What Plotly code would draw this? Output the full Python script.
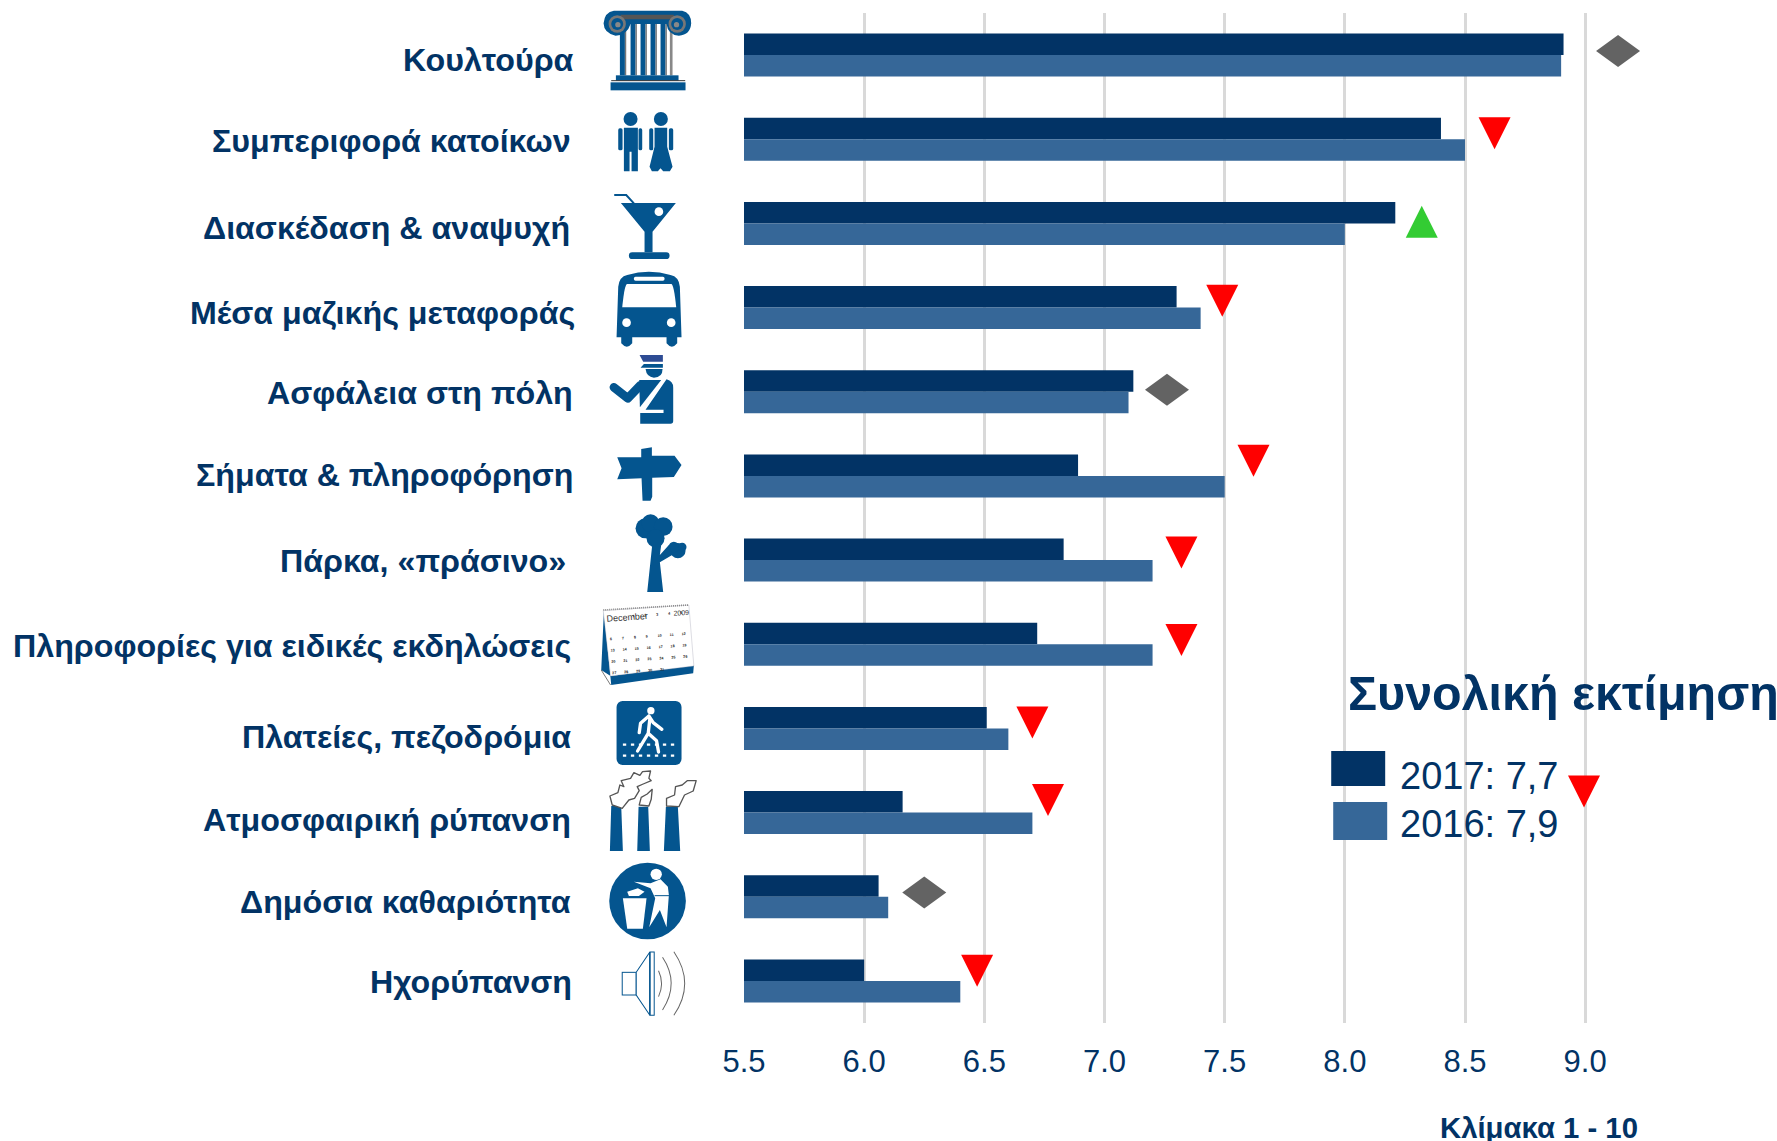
import base64
import plotly.graph_objects as go

W, H = 1777, 1141
PL, PR, PT, PB = 743.5, 1777, 13, 1023

categories = ["Κουλτούρα", "Συμπεριφορά\u00a0κατοίκων", "Διασκέδαση\u00a0&\u00a0αναψυχή",
              "Μέσα μαζικής μεταφοράς", "Ασφάλεια στη\u00a0πόλη", "Σήματα\u00a0&\u00a0πληροφόρηση",
              "Πάρκα, «πράσινο»", "Πληροφορίες για ειδικές εκδηλώσεις", "Πλατείες, πεζοδρόμια",
              "Ατμοσφαιρική\u00a0ρύπανση", "Δημόσια\u00a0καθαριότητα", "Ηχορύπανση"]
values_2017 = [8.91, 8.40, 8.21, 7.30, 7.12, 6.89, 6.83, 6.72, 6.51, 6.16, 6.06, 6.00]
values_2016 = [8.90, 8.50, 8.00, 7.40, 7.10, 7.50, 7.20, 7.20, 6.60, 6.70, 6.10, 6.40]
trend_kind = ["same", "down", "up", "down", "same", "down", "down", "down", "down", "down", "same", "down"]
trend_x = [9.137, 8.623, 8.32, 7.49, 7.26, 7.62, 7.32, 7.32, 6.70, 6.765, 6.25, 6.47]
trend_row = [-0.05, 0.93, 1.98, 2.92, 3.975, 4.82, 5.91, 6.95, 7.93, 8.85, 9.95, 10.88]
overall_x, overall_row = [8.995], [8.75]
x_ticks = [5.5, 6.0, 6.5, 7.0, 7.5, 8.0, 8.5, 9.0]
x_tick_labels = ["5.5", "6.0", "6.5", "7.0", "7.5", "8.0", "8.5", "9.0"]

NAVY, STEEL, INK, GRID = "#023365", "#366798", "#023365", "#D9D9D9"
ICON = "#04558F"
RED, GREEN, GREY = "#FF0000", "#33CC33", "#636363"
rows = list(range(len(categories)))
label_right = [575.5, 572, 571, 576.5, 574.5, 574.5, 567.5, 572, 572, 572, 572, 573]
label_down = [5, 2, 4.5, 5.5, 1.5, -1, 1, 2, 9, 7, 5.5, 1.5]

px = lambda v: (v - PL) / (PR - PL)
py = lambda v: (PB - v) / (PB - PT)

fig = go.Figure()
fig.add_bar(name="2017", y=rows, x=values_2017, orientation="h", marker_color=NAVY, marker_line_width=0)
fig.add_bar(name="2016", y=rows, x=values_2016, orientation="h", marker_color=STEEL, marker_line_width=0)

colors = {"same": GREY, "down": RED, "up": GREEN}
symbols = {"same": "diamond", "down": "triangle-down", "up": "triangle-up"}
fig.add_scatter(name="Τάση", x=trend_x, y=trend_row, mode="markers", cliponaxis=False,
                marker=dict(size=14, line_width=0, color=[colors[k] for k in trend_kind],
                            symbol=[symbols[k] for k in trend_kind]))
fig.add_scatter(name="Συνολική", x=overall_x, y=overall_row, mode="markers",
                marker=dict(size=14, line_width=0, color=RED, symbol="triangle-down"))

glyph = {
    "same": "M -22 0 L 0 16 L 22 0 L 0 -16 Z",
    "down": "M -16 16 L 16 16 L 0 -16 Z",
    "up": "M -16 -16 L 16 -16 L 0 16 Z",
}
shapes = []
for xv, yv, k in list(zip(trend_x, trend_row, trend_kind)) + [(overall_x[0], overall_row[0], "down")]:
    shapes.append(dict(type="path", xref="x", yref="y", xsizemode="pixel", ysizemode="pixel",
                       xanchor=xv, yanchor=yv, path=glyph[k], fillcolor=colors[k], line_width=0))

# legend swatches
for (x0, x1, y0, y1), c in [((1331, 1385, 751, 786), NAVY), ((1333, 1387, 802, 840), STEEL)]:
    shapes.append(dict(type="rect", xref="paper", yref="paper", x0=px(x0), x1=px(x1), y0=py(y1), y1=py(y0),
                       fillcolor=c, line_width=0))

annotations = []
for i, t in enumerate(categories):
    annotations.append(dict(text=f"<b>{t}</b>", xref="paper", yref="y", x=px(label_right[i]), y=i, yshift=-label_down[i],
                            xanchor="right", yanchor="middle", showarrow=False, xshift=0,
                            font=dict(family="Liberation Sans", size=32.2, color=INK)))
def free_text(t, x, y, size, anchor="left"):
    annotations.append(dict(text=t, xref="paper", yref="paper", x=px(x), y=py(y), xanchor=anchor, yanchor="middle",
                            showarrow=False, font=dict(family="Liberation Sans", size=size, color=INK)))
free_text("<b>Συνολική εκτίμηση</b>", 1346, 693, 48.4)
free_text("2017: 7,7", 1398, 776, 38)
free_text("2016: 7,9", 1398, 824, 38)
free_text("<b>Κλίμακα 1 - 10</b>", 1438, 1127, 29.3)

# ---- pictograms (SVG, in coordinates of 3x crops) ----
def svg(vb, body):
    x0, y0, x1, y1 = vb
    return (f'<svg xmlns="http://www.w3.org/2000/svg" width="{(x1-x0)}" height="{(y1-y0)}" '
            f'viewBox="{x0} {y0} {x1-x0} {y1-y0}">{body}</svg>')

B = ICON
flutes = "".join(f'<rect x="{x}" y="70" width="15" height="156" fill="{B}"/><rect x="{x+15}" y="70" width="4" height="156" fill="#777"/>'
                 for x in (118, 150, 180, 210, 240))
column = (f'<rect x="118" y="70" width="160" height="156" fill="#fff"/>{flutes}'
          f'<rect x="268" y="70" width="8" height="156" fill="#888"/>'
          f'<path d="M100 32 H305 Q332 38 332 70 Q330 105 295 107 Q262 105 258 72 H150 Q140 105 105 107 Q70 100 69 70 Q72 36 100 32Z" fill="{B}"/>'
          f'<path d="M120 44 H280 V58 H120Z" fill="#555"/>'
          f'<circle cx="110" cy="72" r="26" fill="#777"/><circle cx="110" cy="72" r="18" fill="{B}"/><circle cx="112" cy="74" r="8" fill="#888"/>'
          f'<circle cx="290" cy="72" r="26" fill="#777"/><circle cx="290" cy="72" r="18" fill="{B}"/><circle cx="288" cy="74" r="8" fill="#888"/>'
          f'<rect x="106" y="226" width="188" height="16" fill="{B}"/><rect x="90" y="247" width="225" height="24" fill="{B}"/>'
          f'<path d="M92 242 H314" stroke="#333" stroke-width="3"/>')
people = (f'<g fill="{B}"><circle cx="150" cy="357" r="21"/><circle cx="241" cy="357" r="21"/>'
          f'<path d="M130 383 H172 V514 H153 V455 H147 V514 H130Z"/>'
          f'<rect x="113" y="385" width="13" height="66" rx="5"/><rect x="174" y="385" width="11" height="66" rx="5"/>'
          f'<path d="M222 383 H260 V440 L276 500 L268 514 H248 L240 505 L232 514 H214 L207 500 L222 440Z"/>'
          f'<rect x="206" y="385" width="12" height="66" rx="5"/><rect x="265" y="385" width="13" height="66" rx="5"/></g>')
glass = (f'<path d="M121 609 H286 L216 695 V757 H192 V695Z" fill="{B}"/><rect x="145" y="757" width="122" height="20" rx="10" fill="{B}"/>'
         f'<circle cx="235" cy="635" r="13" fill="#fff"/><path d="M101 585 H137 L160 610" fill="none" stroke="{B}" stroke-width="6"/>')
bus = (f'<path d="M140 825 Q205 805 270 825 Q295 830 298 860 L303 1012 H290 V1030 Q274 1050 258 1030 V1012 H155 V1030 Q139 1050 122 1030 V1012 H108 L113 860 Q116 830 140 825Z" fill="{B}"/>'
       f'<path d="M140 852 H272 Q280 852 287 922 H125 Q132 852 140 852Z" fill="#fff"/><rect x="160" y="830" width="92" height="12" rx="5" fill="#fff"/>'
       f'<circle cx="138" cy="968" r="13" fill="#fff"/><circle cx="272" cy="968" r="13" fill="#fff"/>')
police = (f'<g fill="{B}"><path d="M147 30 H217 V50 H158Z" fill="#2E4C94"/><path d="M150 68 L160 57 H217 V68Z"/>'
          f'<path d="M165 72 H216 Q216 98 190 98 Q168 96 165 72Z"/>'
          f'<path d="M70 127 L112 160 L148 122" fill="none" stroke="{B}" stroke-width="26" stroke-linecap="round" stroke-linejoin="round"/>'
          f'<path d="M146 105 H212 L148 187Z"/><path d="M228 103 Q248 108 248 128 V228 Q248 236 240 236 H149 V204 H219 V194 H165Z"/></g>')
sign = (f'<g fill="{B}"><path d="M80 337 H152 V312 L184 307 V332 H252 L273 360 L250 396 L185 398 V455 L180 467 H156 L153 400 L80 403 L93 370Z"/></g>')
tree = (f'<g fill="{B}"><circle cx="165" cy="550" r="30"/><circle cx="180" cy="535" r="27"/><circle cx="218" cy="545" r="28"/>'
        f'<circle cx="195" cy="580" r="27"/><circle cx="262" cy="617" r="23"/><circle cx="250" cy="606" r="16"/><circle cx="275" cy="606" r="13"/>'
        f'<path d="M185 600 L212 600 L208 630 L235 600 L245 630 L208 652 L218 741 H170 Z"/></g>')
cells = ""
n = 1
for r in range(6):
    for c in range(7):
        if (r, c) >= (0, 2) and n <= 31:
            cells += f'<text x="{c*36+82}" y="{r*34+118 - 30*(r==0)}" font-size="11" font-weight="bold" fill="#222" font-family="Liberation Sans">{n}</text>'
            n += 1
cal = (f'<path d="M62 240 L70 62 L92 285 L338 250 L340 226 L90 258Z" fill="{B}"/><path d="M68 62 L325 45 L340 228 L90 258Z" fill="#fff" stroke="#99a" stroke-width="1"/>'
       f'<path d="M68 60 L325 45" stroke="#888" stroke-width="5" stroke-dasharray="3 3"/>'
       f'<g transform="rotate(-4 68 62)"><text x="76" y="96" font-size="27" fill="#333" font-family="Liberation Sans">December</text>'
       f'<text x="278" y="92" font-size="21" fill="#333" font-family="Liberation Sans">2009</text>{cells}</g>'
       f'<path d="M62 240 L90 285" stroke="#333" stroke-width="2"/>')
walk = (f'<rect x="108" y="333" width="195" height="192" rx="18" fill="{B}"/><circle cx="211" cy="362" r="11" fill="#fff"/>'
        f'<path d="M205 378 L180 400 L176 428 M205 378 L218 398 L244 418 M208 385 L203 430 L171 483 M203 430 L228 452 L234 486" fill="none" stroke="#fff" stroke-width="10" stroke-linecap="round" stroke-linejoin="round"/>'
        f'<path d="M127 464 H283 M127 497 H283" stroke="#fff" stroke-width="7" stroke-dasharray="10 14"/>')
smoke = ('<path d="M95 645 L88 618 L112 608 L118 585 L130 590 L122 572 L150 565 L160 548 L178 556 L186 545 L210 543 L205 565 L212 572 L188 582 L170 590 L176 602 L162 625 L145 630 L125 655Z'
         'M176 645 L182 622 L200 612 L215 598 L212 628 L205 648Z'
         'M258 648 L258 625 L282 615 L285 590 L305 585 L320 572 L347 572 L338 603 L312 615 L295 650Z" '
         'fill="#fff" stroke="#555" stroke-width="4" stroke-linejoin="round"/>')
chimney = (f'<path d="M92 648 H122 L127 783 H88Z M174 650 H203 L208 783 H170Z M256 650 H292 L299 783 H250Z" fill="{B}"/>{smoke}')
trash = (f'<circle cx="201" cy="933" r="115" fill="{B}"/><circle cx="227" cy="853" r="17" fill="#fff"/>'
         f'<path d="M127 925 H198 L187 1016 H140Z" fill="#fff"/><path d="M140 905 L172 895 L192 905 L175 918 H145Z" fill="#fff"/>'
         f'<path d="M160 875 L210 880 L240 868 L262 890 L265 915 L258 1012 L238 960 L206 1012 L224 925 L210 895Z" fill="#fff"/>'
         f'<path d="M222 917 H268" stroke="{B}" stroke-width="3"/>')
speaker = (f'<g fill="#fff" stroke="{B}" stroke-width="3"><rect x="125" y="1147" width="42" height="68"/>'
           f'<path d="M167 1147 L208 1086 H221 V1276 H208 L167 1215Z"/><path d="M208 1086 V1276" stroke-width="5"/></g>'
           f'<g fill="none" stroke="#666" stroke-width="3"><path d="M234 1142 Q252 1180 234 1220"/><path d="M246 1102 Q298 1180 246 1260"/><path d="M280 1085 Q345 1180 280 1276"/></g>')

icons = [
    (column, (60, 25, 340, 278), (580, 0)),
    (people, (105, 330, 285, 520), (580, 0)),
    (glass, (95, 578, 290, 782), (580, 0)),
    (bus, (104, 808, 308, 1046), (580, 0)),
    (police, (50, 25, 255, 240), (590, 345)),
    (sign, (75, 303, 278, 470), (590, 345)),
    (tree, (130, 505, 292, 745), (590, 345)),
    (cal, (56, 40, 345, 290), (580, 590)),
    (walk, (105, 330, 306, 528), (580, 590)),
    (chimney, (84, 538, 352, 786), (580, 590)),
    (trash, (82, 816, 320, 1050), (580, 590)),
    (speaker, (120, 1080, 322, 1280), (580, 590)),
]
images = []
for body, vb, (ox, oy) in icons:
    src = "data:image/svg+xml;base64," + base64.b64encode(svg(vb, body).encode()).decode()
    x0, y0, x1, y1 = ox + vb[0] / 3, oy + vb[1] / 3, ox + vb[2] / 3, oy + vb[3] / 3
    images.append(dict(source=src, xref="paper", yref="paper", x=px(x0), y=py(y0),
                       sizex=(x1 - x0) / (PR - PL), sizey=(y1 - y0) / (PB - PT),
                       xanchor="left", yanchor="top", sizing="stretch", layer="above"))

fig.update_layout(
    width=W, height=H, autosize=False, barmode="group", bargap=0.49, bargroupgap=0,
    showlegend=False, paper_bgcolor="white", plot_bgcolor="white",
    margin=dict(l=PL, r=W - PR, t=PT, b=H - PB, pad=0),
    shapes=shapes, annotations=annotations, images=images,
    xaxis=dict(range=[5.5, 5.5 + (PR - PL) / 240.45], tickmode="array", tickvals=x_ticks, ticktext=x_tick_labels,
               showgrid=True, gridcolor=GRID, gridwidth=2.5, zeroline=False, showline=False,
               ticks="outside", ticklen=11, tickcolor="rgba(0,0,0,0)",
               tickfont=dict(family="Liberation Sans", size=31, color=INK)),
    yaxis=dict(range=[11.5, -0.5], showgrid=False, zeroline=False, showline=False, showticklabels=False, ticks=""),
)
fig.write_html("out.html", config={"displayModeBar": False},
               post_script="document.body.style.margin='0';document.documentElement.style.overflow='hidden';")
